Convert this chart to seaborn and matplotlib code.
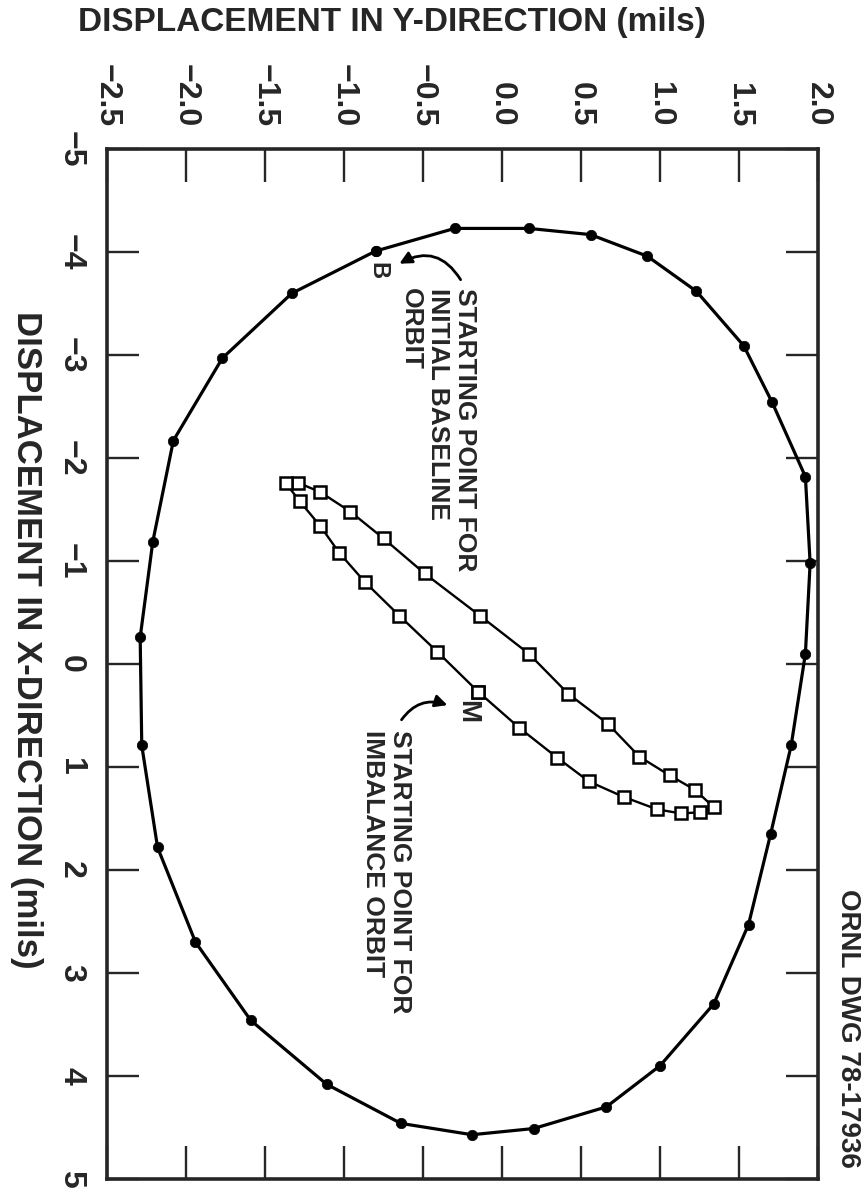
import numpy as np
import pandas as pd
import seaborn as sns
import matplotlib.pyplot as plt

# baseline orbit (filled dots), starting at point B; x = X-direction, y = Y-direction (mils)
base_x = [-4.01, -4.23, -4.23, -4.17, -3.96, -3.62, -3.09, -2.54, -1.82, -0.98,
          -0.10, 0.79, 1.65, 2.53, 3.30, 3.90, 4.30, 4.51, 4.57, 4.46,
          4.08, 3.46, 2.70, 1.78, 0.79, -0.26, -1.19, -2.17, -2.97, -3.60]
base_y = [-0.80, -0.30, 0.17, 0.56, 0.92, 1.23, 1.53, 1.71, 1.92, 1.95,
          1.92, 1.83, 1.70, 1.56, 1.34, 1.00, 0.66, 0.20, -0.19, -0.64,
          -1.11, -1.59, -1.94, -2.18, -2.28, -2.29, -2.21, -2.08, -1.77, -1.33]

# imbalance orbit (open squares), starting at point M
imb_x = [0.27, 0.62, 0.91, 1.14, 1.29, 1.41, 1.45, 1.44, 1.39,
         1.22, 1.08, 0.90, 0.58, 0.29, -0.10, -0.47, -0.88, -1.22, -1.48, -1.67, -1.76,
         -1.76, -1.58, -1.34, -1.08, -0.80, -0.47, -0.12]
imb_y = [-0.15, 0.11, 0.35, 0.55, 0.77, 0.98, 1.13, 1.25, 1.34,
         1.22, 1.06, 0.87, 0.67, 0.42, 0.17, -0.14, -0.49, -0.75, -0.96, -1.15, -1.29,
         -1.37, -1.28, -1.15, -1.03, -0.87, -0.65, -0.41]

y_ticks = [-2.5, -2.0, -1.5, -1.0, -0.5, 0.0, 0.5, 1.0, 1.5, 2.0]
y_tick_labels = ["\u22122.5", "\u22122.0", "\u22121.5", "\u22121.0", "\u22120.5",
                 "0.0", "0.5", "1.0", "1.5", "2.0"]
x_ticks = [-5, -4, -3, -2, -1, 0, 1, 2, 3, 4, 5]
x_tick_labels = ["\u22125", "\u22124", "\u22123", "\u22122", "\u22121",
                 "0", "1", "2", "3", "4", "5"]

sns.set_style("ticks")
plt.rcParams['font.family'] = ['Liberation Sans', 'DejaVu Sans']
plt.rcParams['font.weight'] = 'bold'

# close both loops
df_base = pd.DataFrame({"x": np.append(base_x, base_x[0]), "y": np.append(base_y, base_y[0])})
df_imb = pd.DataFrame({"x": np.append(imb_x, imb_x[0]), "y": np.append(imb_y, imb_y[0])})

fig = plt.figure(figsize=(8.65, 11.92), dpi=100)
ax = fig.add_axes([0.1237, 0.0109, 0.822, 0.864])

# chart is drawn turned by 90 degrees: Y-direction runs across, X-direction runs down
sns.lineplot(data=df_base, x="y", y="x", sort=False, estimator=None, ax=ax,
             color="black", lw=2.3, marker="o", markersize=7.5,
             markerfacecolor="black", markeredgecolor="black", markeredgewidth=0.5)
sns.lineplot(data=df_imb, x="y", y="x", sort=False, estimator=None, ax=ax,
             color="black", lw=1.7, marker="s", markersize=9,
             markerfacecolor="white", markeredgecolor="black", markeredgewidth=1.8)

ax.set_xlim(-2.5, 2.0)
ax.set_ylim(5, -5)
ax.set_xlabel("")
ax.set_ylabel("")

ax.set_xticks(y_ticks)
ax.set_xticklabels(y_tick_labels, rotation=-90, fontsize=23, fontweight="bold")
ax.set_yticks(x_ticks)
ax.set_yticklabels(x_tick_labels, rotation=-90, fontsize=23, fontweight="bold", va="center")
ax.tick_params(axis="x", top=True, bottom=True, labeltop=True, labelbottom=False,
               direction="in", length=24, width=1.7, pad=16)
ax.tick_params(axis="y", left=True, right=True, labelleft=True, labelright=False,
               direction="in", length=23, width=1.7, pad=15)
for s in ax.spines.values():
    s.set_linewidth(2.6)
    s.set_visible(True)

# annotations
ax.text(-0.158, -3.65, "STARTING POINT FOR\nINITIAL BASELINE\nORBIT", rotation=-90,
        ha="right", va="top", multialignment="left", fontsize=19, fontweight="bold",
        linespacing=1.15)
ax.text(-0.785, -3.816, "B", rotation=-90, ha="center", va="center",
        fontsize=17, fontweight="bold")
ax.annotate("", xy=(-0.665, -3.874), xytext=(-0.253, -3.709),
            arrowprops=dict(arrowstyle="-|>", connectionstyle="arc3,rad=0.5",
                            color="black", lw=2, mutation_scale=18))

ax.text(-0.570, 0.641, "STARTING POINT FOR\nIMBALANCE ORBIT", rotation=-90,
        ha="right", va="top", multialignment="left", fontsize=19, fontweight="bold",
        linespacing=1.15)
ax.text(-0.222, 0.466, "M", rotation=-90, ha="center", va="center",
        fontsize=20, fontweight="bold")
ax.annotate("", xy=(-0.329, 0.408), xytext=(-0.646, 0.563),
            arrowprops=dict(arrowstyle="-|>", connectionstyle="arc3,rad=-0.4",
                            color="black", lw=2, mutation_scale=18))

fig.text(78 / 865, 1 - 22 / 1192, "DISPLACEMENT IN Y-DIRECTION (mils)",
         ha="left", va="center", fontsize=24, fontweight="bold")
fig.text(26 / 865, 1 - 640 / 1192, "DISPLACEMENT IN X-DIRECTION (mils)",
         rotation=-90, ha="center", va="center", fontsize=25, fontweight="bold")
fig.text(848 / 865, 1 - 1028 / 1192, "ORNL DWG 78-17936",
         rotation=-90, ha="center", va="center", fontsize=20, fontweight="bold")

fig.savefig("out.png", dpi=100)
